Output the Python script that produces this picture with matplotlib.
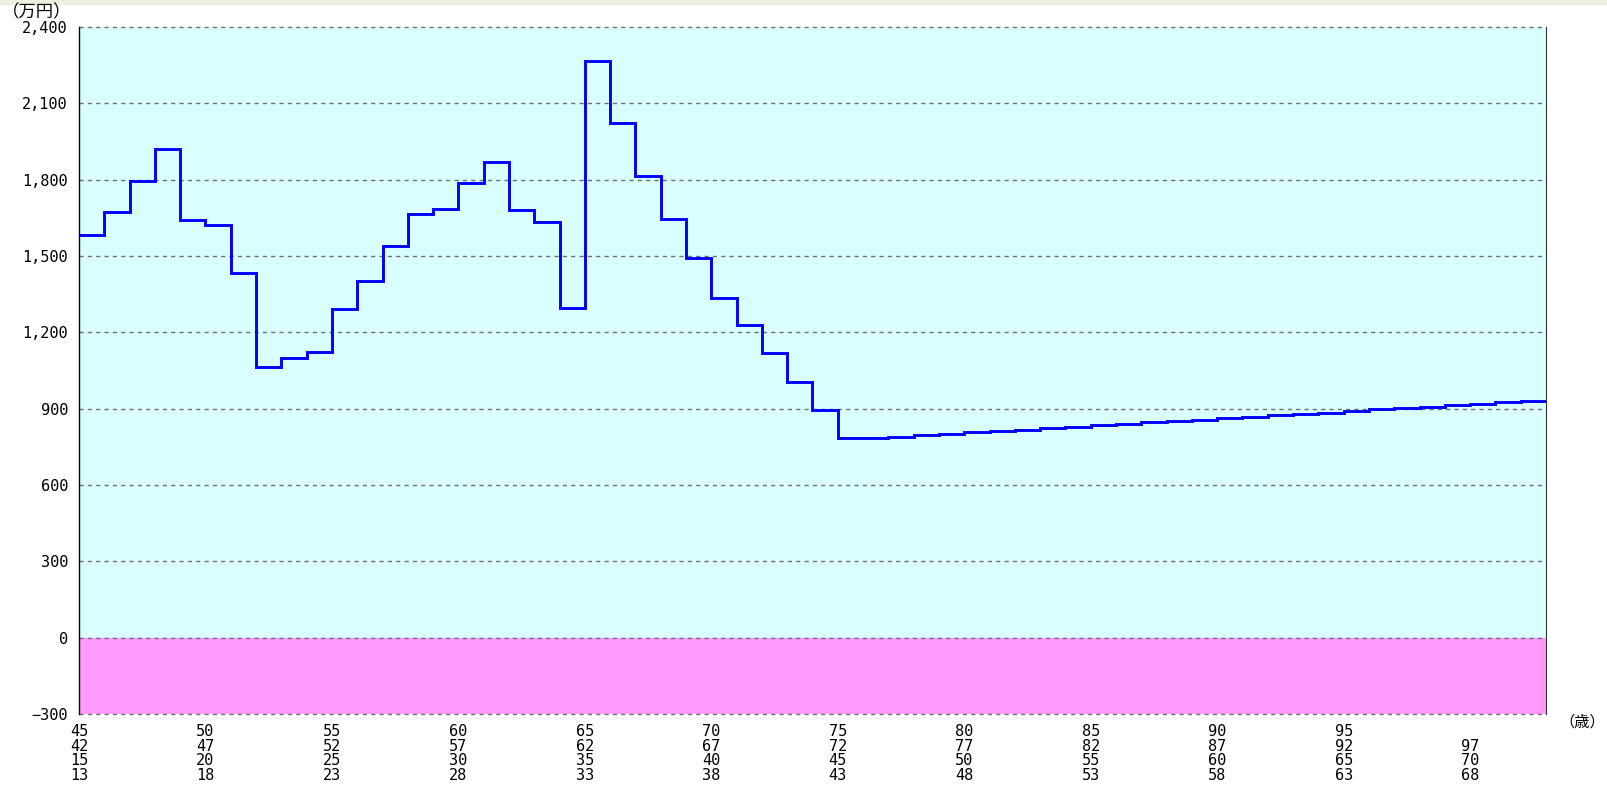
import matplotlib.pyplot as plt
from matplotlib.patches import Rectangle

# 年齢ごとの金融資産残高（万円）
ages = list(range(45, 103))
balance = [1582, 1673, 1795, 1921, 1642, 1623, 1433, 1064, 1100, 1123,
           1290, 1403, 1538, 1666, 1684, 1785, 1869, 1680, 1635, 1296,
           2266, 2022, 1815, 1645, 1493, 1335, 1227, 1117, 1006, 893,
           783, 785, 789, 796, 802, 808, 812, 816, 823, 828,
           836, 841, 849, 853, 857, 863, 867, 875, 880, 884,
           891, 897, 902, 908, 915, 919, 926, 931]

# x軸の4段ラベル（本人・配偶者・子供）
tick_ages = [45, 50, 55, 60, 65, 70, 75, 80, 85, 90, 95, 100]
row_self = ["45", "50", "55", "60", "65", "70", "75", "80", "85", "90", "95", ""]
row_spouse = ["42", "47", "52", "57", "62", "67", "72", "77", "82", "87", "92", "97"]
row_child1 = ["15", "20", "25", "30", "35", "40", "45", "50", "55", "60", "65", "70"]
row_child2 = ["13", "18", "23", "28", "33", "38", "43", "48", "53", "58", "63", "68"]

y_ticks = list(range(-300, 2401, 300))

plt.rcParams["font.family"] = ["DejaVu Sans Mono", "Noto Sans CJK JP"]

fig = plt.figure(figsize=(16.08, 7.86), dpi=100)
fig.patches.append(Rectangle((0, 1 - 4 / 786), 1, 4 / 786, transform=fig.transFigure,
                             color="#EFEFE0", zorder=0))
ax = fig.add_axes([79 / 1608, 72 / 786, 1467 / 1608, 687 / 786])

ax.axhspan(0, 2400, color="#D9FFFF", zorder=0)
ax.axhspan(-300, 0, color="#FF99FF", zorder=0)
for y in y_ticks:
    ax.axhline(y, color="#707070", lw=1, ls=(0, (3, 3)), clip_on=False, zorder=1)

ax.stairs(balance, edges=ages + [ages[-1] + 1], baseline=None,
          color="#0000FF", lw=2.1, zorder=3)

ax.set_xlim(45, 103)
ax.set_ylim(-300, 2400)
ax.set_yticks(y_ticks, labels=[f"{v:,}".replace("-", "\u2212") for v in y_ticks])
labels = ["\n".join(r) for r in zip(row_self, row_spouse, row_child1, row_child2)]
ax.set_xticks(tick_ages, labels=labels)
ax.tick_params(axis="y", length=0, pad=8, labelsize=11)
ax.tick_params(axis="x", length=0, pad=7, labelsize=11)
for lbl in ax.get_xticklabels():
    lbl.set_linespacing(0.99)

for s in ("top", "bottom"):
    ax.spines[s].set_visible(False)
ax.spines["left"].set_color("black")
ax.spines["left"].set_linewidth(1)
ax.spines["right"].set_color("#333333")
ax.spines["right"].set_linewidth(0.8)

fig.text(2 / 1608, 1 - 12 / 786, "（万円）", fontsize=12.5, va="center", ha="left")
fig.text(1582 / 1608, 1 - 722 / 786, "（歳）", fontsize=11, va="center", ha="center")

fig.savefig("out.png", dpi=100)
